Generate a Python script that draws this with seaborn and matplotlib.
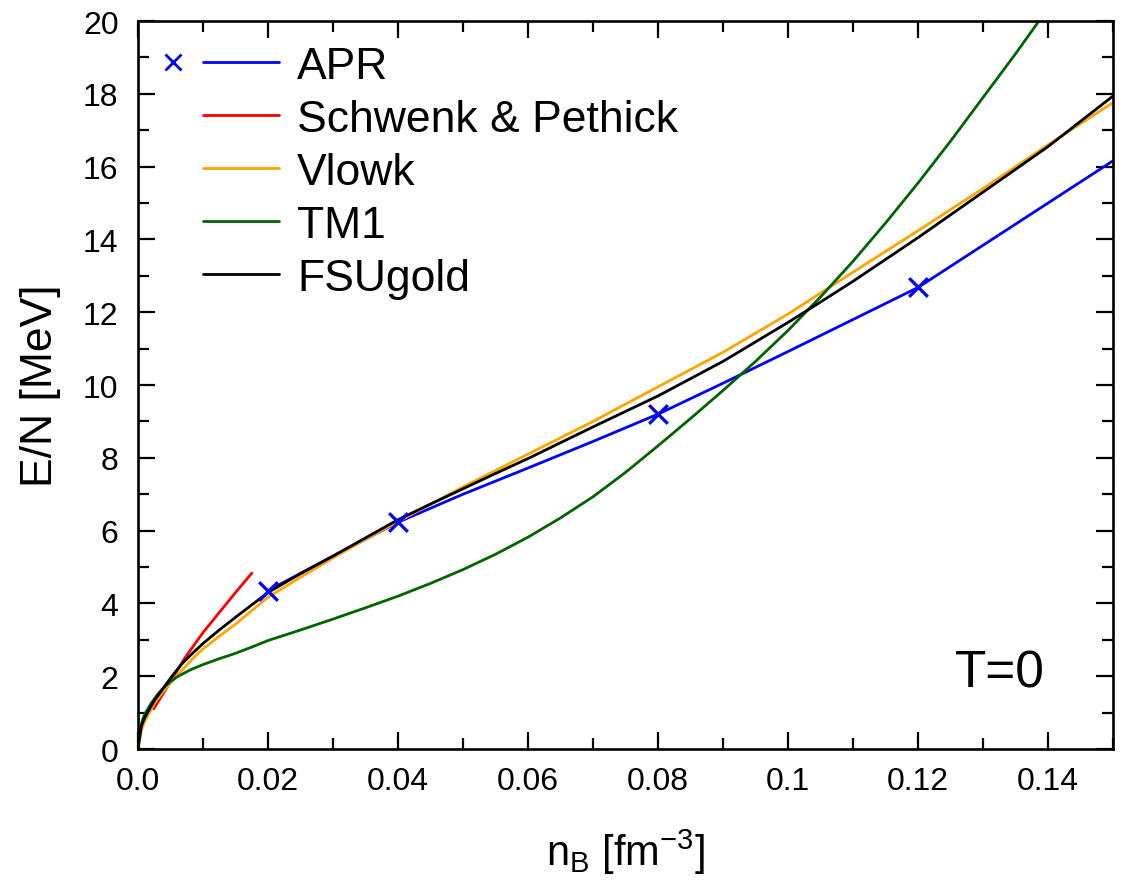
import numpy as np
import pandas as pd
import matplotlib
matplotlib.use("Agg")
import matplotlib.pyplot as plt
import seaborn as sns
from matplotlib.lines import Line2D
from matplotlib.legend_handler import HandlerBase
from matplotlib.ticker import MultipleLocator

# ---- data: energy per neutron vs baryon density ----
apr_n = [0.02, 0.03, 0.04, 0.05, 0.06, 0.07, 0.08, 0.09, 0.10, 0.11, 0.12, 0.13, 0.14, 0.15]
apr_e = [4.35, 5.30, 6.23, 7.00, 7.72, 8.45, 9.20, 10.05, 10.92, 11.80, 12.68, 13.84, 15.00, 16.16]
apr_mark_n = [0.02, 0.04, 0.08, 0.12]
apr_mark_e = [4.35, 6.23, 9.20, 12.68]

sp_n = [0.0024, 0.005, 0.0072, 0.010, 0.0125, 0.015, 0.0175]
sp_e = [1.10, 1.85, 2.50, 3.20, 3.75, 4.30, 4.83]

vlowk_n = [0.0, 0.0005, 0.001, 0.0016, 0.0025, 0.0036, 0.005, 0.0067, 0.0085, 0.01,
           0.0125, 0.015, 0.0175, 0.02, 0.025, 0.03, 0.035, 0.04, 0.05, 0.06, 0.07,
           0.08, 0.09, 0.10, 0.11, 0.12, 0.13, 0.14, 0.15]
vlowk_e = [0.0, 0.50, 0.75, 0.95, 1.25, 1.52, 1.82, 2.15, 2.50, 2.75,
           3.10, 3.43, 3.80, 4.17, 4.72, 5.25, 5.76, 6.25, 7.20, 8.10, 9.00,
           9.95, 10.90, 11.95, 13.10, 14.24, 15.40, 16.60, 17.76]

fsu_n = [0.0, 0.0005, 0.001, 0.0016, 0.0025, 0.0036, 0.005, 0.0067, 0.0085, 0.01,
         0.0125, 0.015, 0.0175, 0.02, 0.025, 0.03, 0.035, 0.04, 0.045, 0.05, 0.055,
         0.06, 0.07, 0.08, 0.09, 0.10, 0.105, 0.11, 0.12, 0.13, 0.14, 0.15]
fsu_e = [0.0, 0.62, 0.85, 1.05, 1.33, 1.60, 1.95, 2.33, 2.65, 2.90,
         3.27, 3.62, 3.96, 4.30, 4.82, 5.30, 5.80, 6.30, 6.73, 7.15, 7.57,
         7.98, 8.85, 9.70, 10.65, 11.72, 12.28, 12.85, 14.05, 15.30, 16.55, 17.94]

tm1_n = [0.0, 0.0002, 0.0006, 0.001, 0.002, 0.003, 0.004, 0.005, 0.006, 0.008, 0.01,
         0.0125, 0.015, 0.0175, 0.02, 0.025, 0.03, 0.035, 0.04, 0.045, 0.05, 0.055,
         0.06, 0.065, 0.07, 0.075, 0.08, 0.085, 0.09, 0.095, 0.10, 0.105, 0.11,
         0.115, 0.12, 0.125, 0.13, 0.135, 0.14]
tm1_e = [0.0, 0.45, 0.75, 0.95, 1.25, 1.50, 1.70, 1.85, 1.98, 2.17, 2.32,
         2.48, 2.63, 2.80, 2.98, 3.27, 3.57, 3.88, 4.20, 4.55, 4.93, 5.35,
         5.82, 6.35, 6.93, 7.60, 8.33, 9.08, 9.85, 10.65, 11.50, 12.42, 13.40,
         14.45, 15.55, 16.70, 17.90, 19.10, 20.35]

series_names = ["APR", "Schwenk & Pethick", "Vlowk", "TM1", "FSUgold"]
series_colors = ["#0000ff", "#ff0000", "#ffa500", "#006400", "#000000"]

xtick_vals = [0.0, 0.02, 0.04, 0.06, 0.08, 0.10, 0.12, 0.14]
xtick_labels = ["0.0", "0.02", "0.04", "0.06", "0.08", "0.1", "0.12", "0.14"]
ytick_vals = list(range(0, 21, 2))

frames = [
    pd.DataFrame({"n": apr_n, "E": apr_e, "model": "APR"}),
    pd.DataFrame({"n": sp_n, "E": sp_e, "model": "Schwenk & Pethick"}),
    pd.DataFrame({"n": vlowk_n, "E": vlowk_e, "model": "Vlowk"}),
    pd.DataFrame({"n": tm1_n, "E": tm1_e, "model": "TM1"}),
    pd.DataFrame({"n": fsu_n, "E": fsu_e, "model": "FSUgold"}),
]
df = pd.concat(frames, ignore_index=True)
marks = pd.DataFrame({"n": apr_mark_n, "E": apr_mark_e})

sns.set_theme(style="ticks")
plt.rcParams["font.family"] = ["Liberation Sans", "DejaVu Sans"]
plt.rcParams["mathtext.fontset"] = "custom"
plt.rcParams["mathtext.rm"] = "Liberation Sans"
plt.rcParams["mathtext.it"] = "Liberation Sans:italic"
plt.rcParams["text.color"] = "black"
plt.rcParams["axes.labelcolor"] = "black"
plt.rcParams["xtick.color"] = "black"
plt.rcParams["ytick.color"] = "black"

fig = plt.figure(figsize=(11.36, 8.95), dpi=100)
ax = fig.add_axes([0.1215, 0.162, 0.8583, 0.8134])

LW = 2.0
for name, color in zip(series_names, series_colors):
    sub = df[df["model"] == name]
    sns.lineplot(data=sub, x="n", y="E", ax=ax, color=color, lw=LW,
                 sort=False, estimator=None, legend=False)
sns.scatterplot(data=marks, x="n", y="E", ax=ax, marker="x", s=180,
                color="#0000ff", linewidth=2.3, legend=False, zorder=5)

ax.set_xlim(0, 0.15)
ax.set_ylim(0, 20)
ax.set_xticks(xtick_vals)
ax.set_xticklabels(xtick_labels)
ax.set_yticks(ytick_vals)
ax.xaxis.set_minor_locator(MultipleLocator(0.01))
ax.yaxis.set_minor_locator(MultipleLocator(1))
ax.tick_params(which="both", direction="in", top=True, right=True,
               colors="black", labelcolor="black", width=1.6, labelsize=23)
ax.tick_params(which="major", length=12)
ax.tick_params(which="minor", length=8)
ax.tick_params(axis="x", which="major", pad=12)
ax.tick_params(axis="y", which="major", pad=14)
for sp in ax.spines.values():
    sp.set_linewidth(1.9)
    sp.set_color("black")

ax.set_xlabel(r"n$_\mathregular{B}$ [fm$^\mathregular{-3}$]", fontsize=30, labelpad=22,
              color="black")
ax.set_ylabel("E/N [MeV]", fontsize=32, labelpad=16, color="black")

ax.text(0.1395, 2.1, "T=0", fontsize=37, ha="right", va="center", color="black")


class MarkerLeftHandler(HandlerBase):
    """Line handle with its marker drawn to the left of the line."""

    def create_artists(self, legend, orig_handle, xdescent, ydescent,
                       width, height, fontsize, trans):
        y = (height - ydescent) / 2
        line = Line2D([-xdescent, -xdescent + width], [y, y],
                      color=orig_handle.get_color(), lw=orig_handle.get_linewidth())
        mk = Line2D([-xdescent - 0.40 * width], [y], ls="none",
                    marker=orig_handle.get_marker(),
                    markersize=orig_handle.get_markersize(),
                    markeredgewidth=orig_handle.get_markeredgewidth(),
                    color=orig_handle.get_color())
        line.set_transform(trans)
        mk.set_transform(trans)
        return [line, mk]


handles = []
for name, color in zip(series_names, series_colors):
    if name == "APR":
        handles.append(Line2D([], [], color=color, lw=LW, marker="x",
                              markersize=12, markeredgewidth=2.0))
    else:
        handles.append(Line2D([], [], color=color, lw=LW))

leg = ax.legend(handles, series_names, loc="upper left",
                bbox_to_anchor=(0.0667, 0.966), borderaxespad=0, borderpad=0,
                frameon=False, fontsize=32, handlelength=1.7, handletextpad=0.42,
                labelspacing=0.27, handler_map={handles[0]: MarkerLeftHandler()})
for t in leg.get_texts():
    t.set_color("black")

fig.savefig("out.png", dpi=100)
